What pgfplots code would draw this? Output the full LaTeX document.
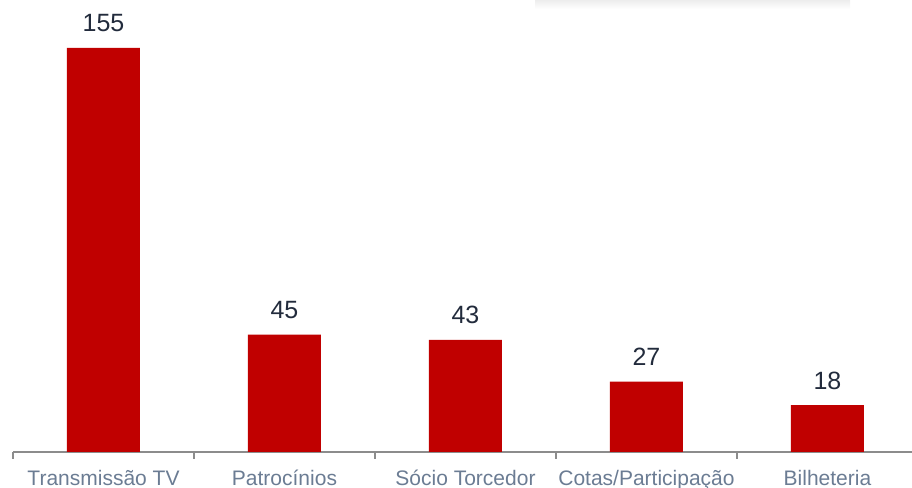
\documentclass[border=0pt]{standalone}
\usepackage{pgfplots}
\pgfplotsset{compat=1.18}
\usepackage{fontspec}
\setmainfont{Liberation Sans}

\definecolor{barred}{HTML}{C00000}
\definecolor{catgray}{HTML}{6B7C93}
\definecolor{valnavy}{HTML}{222B3C}
\definecolor{axgray}{HTML}{8C8C8C}

\begin{document}
\begin{tikzpicture}
\useasboundingbox (0,0) rectangle (912bp,488bp);
% faint shadow strip at the top (remnant of a box in the original)
\shade[top color=black!7, bottom color=white] (535bp,488bp) rectangle (850bp,479bp);
\begin{axis}[
    at={(13bp,36bp)}, anchor=south west,
    scale only axis,
    width=899bp, height=452bp,
    ybar, bar width=73bp,
    xmin=-0.5, xmax=4.467,
    ymin=0, ymax=173.4,
    axis x line*=bottom, axis y line=none,
    x axis line style={draw=axgray, line width=2.2bp, -},
    xtick={0,1,2,3,4},
    xticklabels={Transmissão TV, Patrocínios, Sócio Torcedor, Cotas/Participação, Bilheteria},
    major x tick style={draw=none},
    xticklabel style={font=\fontsize{21bp}{24bp}\selectfont, text=catgray,
        inner sep=0pt, anchor=base, yshift=-29.5bp},
    extra x ticks={-0.5,0.5,1.5,2.5,3.5},
    extra x tick labels={},
    extra x tick style={tick align=outside, major tick length=7bp,
        major x tick style={draw=axgray, line width=2bp}},
    ytick=\empty,
    nodes near coords,
    /pgf/number format/assume math mode=true,
    nodes near coords style={font=\fontsize{25bp}{28bp}\selectfont, text=valnavy, anchor=base, yshift=16bp},
    clip=false,
]
    \addplot[fill=barred, draw=none] coordinates {
        (0,155) (1,45) (2,43) (3,27) (4,18)
    };
\end{axis}
\end{tikzpicture}
\end{document}
